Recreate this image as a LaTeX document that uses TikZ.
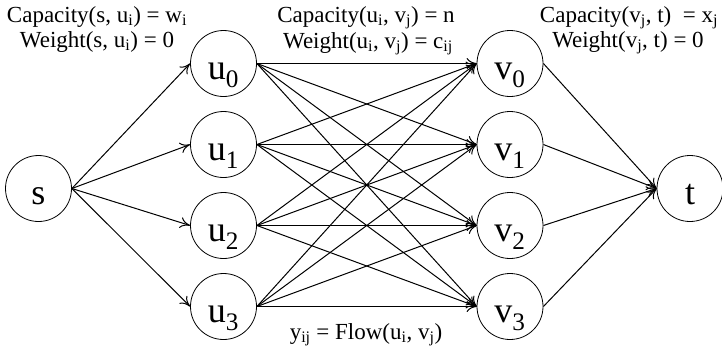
\documentclass[tikz,border=0pt]{standalone}
\usepackage{fontspec}
\setmainfont{Liberation Serif}
\usetikzlibrary{arrows.meta}
\tikzset{
    sommet/.style={draw, circle, line width=0.8pt, minimum size=66pt, inner sep=1pt,
        text height=32pt, text depth=0pt, font=\fontsize{36}{40}\selectfont},
    etiq/.style={anchor=base, inner sep=0pt, font=\fontsize{23}{27}\selectfont},
    arc/.style={-{To[length=10pt,width=11pt]}, line width=1pt}
}
\begin{document}
\begin{tikzpicture}[x=1pt, y=-1pt]
        \useasboundingbox (0,0) rectangle (722,351);

        % Source et puits
        \node[sommet] (s) at (38.5,188.5) {s};
        \node[sommet] (t) at (690,188.5) {t};

        % Sommets u_i et v_j
        \foreach \i/\y in {0/63.5, 1/144.5, 2/225.5, 3/306.5} {
            \node[sommet] (u\i) at (223.5,\y) {u\textsubscript{\i}};
            \node[sommet] (v\i) at (510,\y) {v\textsubscript{\i}};
        }

        % Arcs du graphe biparti
        \foreach \i in {0,...,3} {
            \draw[arc] (s.east) -- (u\i.west);
            \draw[arc] (v\i.east) -- (t.west);
            \foreach \j in {0,...,3}
                \draw[arc] (u\i.east) -- (v\j.west);
        }

        % Capacites et poids
        \node[etiq] (capsu) at (97,22) {Capacity(s, u\textsubscript{i}) = w\textsubscript{i}};
        \node[etiq] (poidssu) at (97,47) {Weight(s, u\textsubscript{i}) = 0};
        \node[etiq] (capuv) at (366,22) {Capacity(u\textsubscript{i}, v\textsubscript{j}) = n};
        \node[etiq] (poidsuv) at (368,48) {Weight(u\textsubscript{i}, v\textsubscript{j}) = c\textsubscript{ij}};
        \node[etiq] (capvt) at (629,22) {Capacity(v\textsubscript{j}, t)\ \ = x\textsubscript{j}};
        \node[etiq] (poidsvt) at (628,47) {Weight(v\textsubscript{j}, t) = 0};
        \node[etiq] (flot) at (366,339) {y\textsubscript{ij} = Flow(u\textsubscript{i}, v\textsubscript{j})};
    \end{tikzpicture}
\end{document}
